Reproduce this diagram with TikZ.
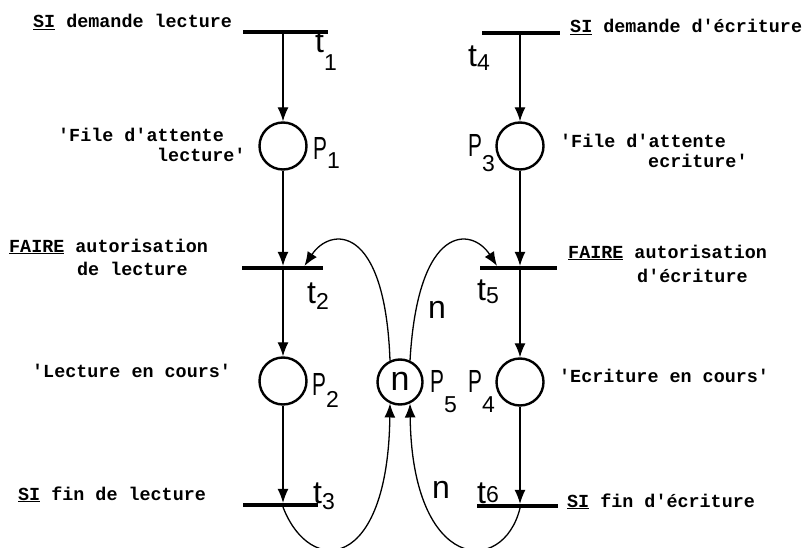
\documentclass[tikz,border=0pt]{standalone}
\usepackage{fontspec}
\setmonofont{Liberation Mono}
\newfontfamily\handfont{Liberation Sans}
\usetikzlibrary{arrows.meta}
% handwritten label: letter, subscript, drop of the subscript
\newcommand\hlab[3]{#1\raisebox{-#3}{\fontsize{23}{23}\selectfont #2}}
\newcommand\narrowP{\scalebox{0.65}[1]{P}}

\begin{document}
\begin{tikzpicture}[x=1pt,y=1pt,
  place/.style={circle, draw, line width=2.4pt, minimum size=47pt, inner sep=0pt},
  bar/.style={fill=black, inner sep=0pt, minimum height=3.8pt},
  flow/.style={line width=1.3pt, arrows={-Latex[length=14pt,width=11pt]}},
  txt/.style={font=\ttfamily\bfseries\fontsize{18.4}{22}\selectfont, anchor=base west, inner sep=0pt},
  hand/.style={font=\handfont\fontsize{32}{32}\selectfont, anchor=base west, inner sep=0pt},
]
\useasboundingbox (0,0) rectangle (810,547);

% transitions (bars)
\node[bar, minimum width=85pt] (t1) at (285.5,515) {};
\node[bar, minimum width=81pt] (t2) at (282.5,279) {};
\node[bar, minimum width=75pt] (t3) at (280.5,42) {};
\node[bar, minimum width=78pt] (t4) at (521,514) {};
\node[bar, minimum width=77pt] (t5) at (518.5,279) {};
\node[bar, minimum width=81pt] (t6) at (517.5,41) {};

% places
\node[place] (P1) at (283,401) {};
\node[place] (P2) at (283,166) {};
\node[place] (P3) at (520,401) {};
\node[place] (P4) at (520,165) {};
\node[place, minimum size=45pt, font=\handfont\fontsize{34}{34}\selectfont] (P5) at (400,165) {\raisebox{2pt}{n}};

% vertical arcs
\draw[flow] (P1 |- t1.south) -- (P1.north);
\draw[flow] (P1.south) -- (P1 |- t2.north);
\draw[flow] (P2 |- t2.south) -- (P2.north);
\draw[flow] (P2.south) -- (P2 |- t3.north);
\draw[flow] (P3 |- t4.south) -- (P3.north);
\draw[flow] (P3.south) -- (P3 |- t5.north);
\draw[flow] (P4 |- t5.south) -- (P4.north);
\draw[flow] (P4.south) -- (P4 |- t6.north);

% arcs around the shared place P5
\draw[flow] (P5.115) .. controls (385,325) and (330,320) .. ([xshift=22pt]t2.north);
\draw[flow] (P5.65) .. controls (418,325) and (472,320) .. ([xshift=-21.5pt]t5.north);
\draw[flow] (P2 |- t3.south) .. controls (310,-30) and (388,-25) .. (P5.245);
\draw[flow] (P4 |- t6.south) .. controls (503,-30) and (412,-25) .. (P5.295);

% handwritten labels
\node[hand] (lt1) at (315,494) {\hlab{t}{1}{18pt}};
\node[hand] (lt2) at (307,244) {\hlab{t}{2}{6pt}};
\node[hand] (lt3) at (313,44) {\hlab{t}{3}{6pt}};
\node[hand] (lt4) at (468,480) {\hlab{t}{4}{4pt}};
\node[hand] (lt5) at (477,247) {\hlab{t}{5}{3pt}};
\node[hand] (lt6) at (477,44) {\hlab{t}{6}{-1pt}};
\node[hand] (lP1) at (313,387) {\hlab{\narrowP}{1}{8pt}};
\node[hand] (lP2) at (312,152) {\hlab{\narrowP}{2}{12pt}};
\node[hand] (lP3) at (468,390) {\hlab{\narrowP}{3}{15pt}};
\node[hand] (lP4) at (468,155) {\hlab{\narrowP}{4}{20pt}};
\node[hand] (lP5) at (430,155) {\hlab{\narrowP}{5}{20pt}};
\node[hand] (ln1) at (428,229) {n};
\node[hand] (ln2) at (432,49) {n};

% typed texts, left side
\node[txt] (a1) at (33,519) {\underline{SI} demande lecture};
\node[txt] (a2) at (58,405) {'File d'attente};
\node[txt] (a3) at (157,385) {lecture'};
\node[txt] (a4) at (9,295) {\underline{FAIRE} autorisation};
\node[txt] (a5) at (77,272) {de lecture};
\node[txt] (a6) at (32,170) {'Lecture en cours'};
\node[txt] (a7) at (18,47) {\underline{SI} fin de lecture};

% typed texts, right side
\node[txt] (b1) at (570,514) {\underline{SI} demande d'écriture};
\node[txt] (b2) at (560,399) {'File d'attente};
\node[txt] (b3) at (648,379) {ecriture'};
\node[txt] (b4) at (568,289) {\underline{FAIRE} autorisation};
\node[txt] (b5) at (637,265) {d'écriture};
\node[txt] (b6) at (559,165) {'Ecriture en cours'};
\node[txt] (b7) at (567,40) {\underline{SI} fin d'écriture};
\end{tikzpicture}
\end{document}
